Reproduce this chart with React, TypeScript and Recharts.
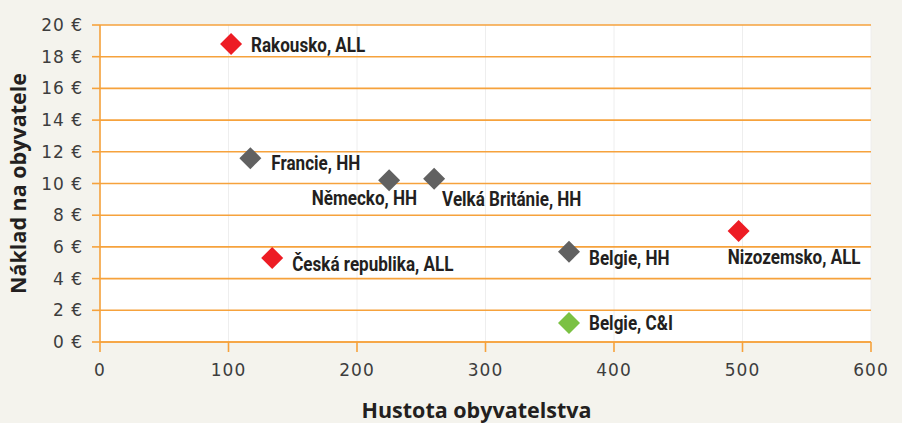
import React from 'react';
import { ScatterChart, Scatter, XAxis, YAxis, CartesianGrid } from 'recharts';

const allPoints = [
  { name: 'Rakousko, ALL', x: 102, y: 18.8 },
  { name: 'Česká republika, ALL', x: 134, y: 5.3 },
  { name: 'Nizozemsko, ALL', x: 497, y: 7.0 },
];
const hhPoints = [
  { name: 'Francie, HH', x: 117, y: 11.6 },
  { name: 'Německo, HH', x: 225, y: 10.2 },
  { name: 'Velká Británie, HH', x: 260, y: 10.3 },
  { name: 'Belgie, HH', x: 365, y: 5.7 },
];
const ciPoints = [{ name: 'Belgie, C&I', x: 365, y: 1.2 }];

const xTicks = [0, 100, 200, 300, 400, 500, 600];
const yTicks = [0, 2, 4, 6, 8, 10, 12, 14, 16, 18, 20];

const xTitle = 'Hustota obyvatelstva';
const yTitle = 'Náklad na obyvatele';

const labelPlacement: Record<string, { dx: number; dy: number; anchor: 'start' | 'end' | 'middle' }> = {
  'Rakousko, ALL': { dx: 20, dy: 7.5, anchor: 'start' },
  'Francie, HH': { dx: 21, dy: 11.5, anchor: 'start' },
  'Německo, HH': { dx: 28, dy: 25, anchor: 'end' },
  'Velká Británie, HH': { dx: 8, dy: 27, anchor: 'start' },
  'Česká republika, ALL': { dx: 20, dy: 13.5, anchor: 'start' },
  'Belgie, HH': { dx: 20, dy: 13, anchor: 'start' },
  'Belgie, C&I': { dx: 20, dy: 7.5, anchor: 'start' },
  'Nizozemsko, ALL': { dx: -11, dy: 33, anchor: 'start' },
};

const ORANGE = '#f6a23c';
const TICK_COLOR = '#3d3d3d';
const LABEL_FONT = "Roboto, 'Noto Sans', sans-serif";
const LABEL_SCALE = 0.875;
const TICK_FONT = "'DejaVu Sans', sans-serif";
const TITLE_FONT = "'Open Sans', 'Noto Sans', sans-serif";

const makeShape = (color: string) => (props: any) => {
  const { cx, cy, payload } = props;
  const r = 11;
  const p = labelPlacement[payload.name] || { dx: 20, dy: 7, anchor: 'start' };
  return (
    <g>
      <polygon
        points={`${cx},${cy - r} ${cx + r},${cy} ${cx},${cy + r} ${cx - r},${cy}`}
        fill={color}
      />
      <text
        transform={`translate(${cx + p.dx},${cy + p.dy}) scale(${LABEL_SCALE},1)`}
        x={0}
        y={0}
        textAnchor={p.anchor}
        fontFamily={LABEL_FONT}
        fontWeight="bold"
        fontSize={19.5}
        fill="#231f20"
      >
        {payload.name}
      </text>
    </g>
  );
};

export default function App() {
  return (
    <div style={{ position: 'absolute', left: 0, top: 0, width: 907, height: 423, background: '#ffffff' }}>
      <div style={{ width: 902, height: 423, background: '#f4f3ed' }}>
        <ScatterChart width={902} height={423} margin={{ top: 25, right: 31, bottom: 0, left: 0 }}>
          <CartesianGrid vertical={false} horizontal={false} fill="#ffffff" />
          <CartesianGrid horizontal={false} stroke="#eeeeee" strokeWidth={1} />
          <CartesianGrid vertical={false} stroke={ORANGE} strokeWidth={1.6} />
          <XAxis
            type="number"
            dataKey="x"
            domain={[0, 600]}
            ticks={xTicks}
            interval={0}
            height={81}
            tickSize={10}
            tickMargin={12}
            axisLine={{ stroke: ORANGE, strokeWidth: 1.6 }}
            tickLine={{ stroke: ORANGE, strokeWidth: 1.6 }}
            tick={{ fill: TICK_COLOR, fontSize: 17, fontFamily: TICK_FONT, letterSpacing: 1 }}
            label={{
              value: xTitle,
              position: 'insideBottom',
              offset: 5,
              dx: -9,
              style: { fontFamily: TITLE_FONT, fontWeight: 'bold', fontSize: 21.5, fill: '#231f20' },
            }}
          />
          <YAxis
            type="number"
            dataKey="y"
            domain={[0, 20]}
            ticks={yTicks}
            interval={0}
            width={100}
            tickSize={8}
            tickMargin={9}
            tickFormatter={(v: number) => `${v} €`}
            axisLine={{ stroke: ORANGE, strokeWidth: 1.6 }}
            tickLine={{ stroke: ORANGE, strokeWidth: 1.6 }}
            tick={{ fill: TICK_COLOR, fontSize: 17, fontFamily: TICK_FONT, letterSpacing: 1 }}
            label={{
              value: yTitle,
              angle: -90,
              position: 'insideLeft',
              offset: 18,
              style: { textAnchor: 'middle', fontFamily: TITLE_FONT, fontWeight: 'bold', fontSize: 21.5, fill: '#231f20' },
            }}
          />
          <Scatter data={allPoints} isAnimationActive={false} shape={makeShape('#ed1c24')} />
          <Scatter data={hhPoints} isAnimationActive={false} shape={makeShape('#616161')} />
          <Scatter data={ciPoints} isAnimationActive={false} shape={makeShape('#7bc143')} />
        </ScatterChart>
      </div>
    </div>
  );
}
